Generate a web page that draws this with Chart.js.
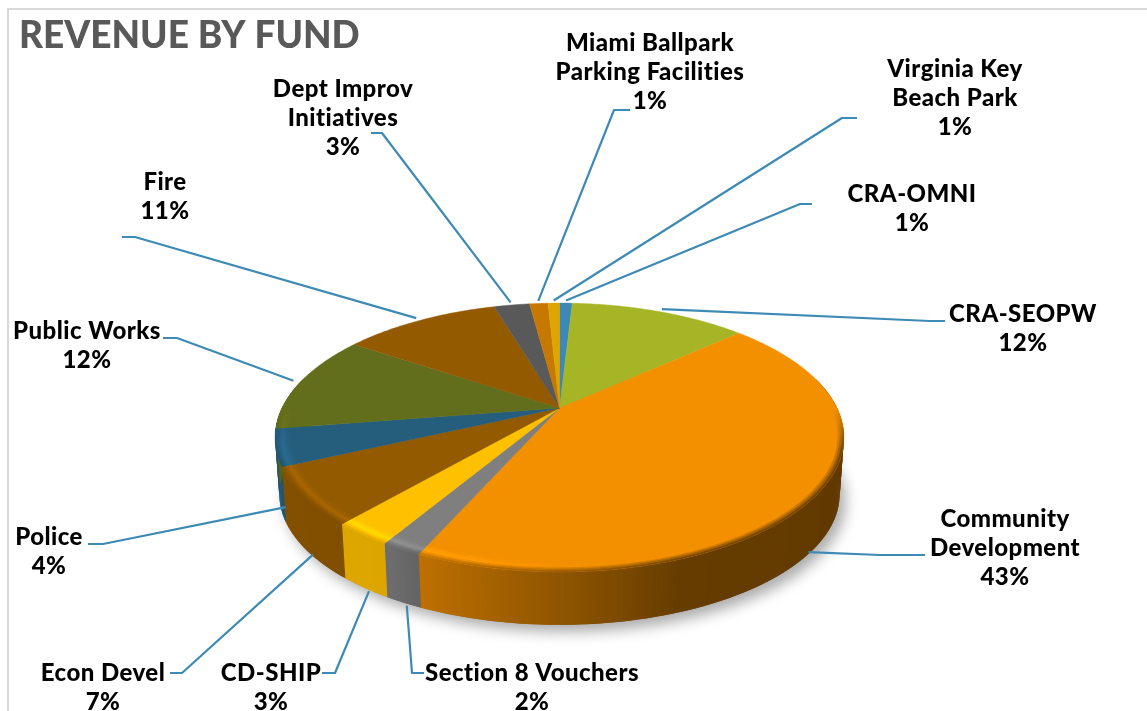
<!DOCTYPE html>
<html><head><meta charset="utf-8">
<style>html,body{margin:0;padding:0;background:#fff}#w{width:1147px;height:711px;position:relative}canvas{display:block;filter:blur(.45px)}</style>
<script src="https://cdn.jsdelivr.net/npm/chart.js@4"></script></head>
<body><div id="w"><canvas id="c" width="1147" height="711"></canvas></div>
<script>
const chartTitle = 'REVENUE BY FUND';
const categories = ['CRA-OMNI','CRA-SEOPW','Community Development','Section 8 Vouchers','CD-SHIP','Econ Devel','Police','Public Works','Fire','Dept Improv Initiatives','Miami Ballpark Parking Facilities','Virginia Key Beach Park'];
const values = [0.9,12.4,43.4,1.9,2.8,6.8,4.4,11.9,11.0,2.5,1.3,0.8];
const percentLabels = ['1%','12%','43%','2%','3%','7%','4%','12%','11%','3%','1%','1%'];
const colors = ['#3D88B5','#A5B526','#F39000','#7F7F7F','#FFC000','#935A00','#255E7D','#636E1C','#935A00','#595959','#C77800','#DDA500'];
const labelLines = [['CRA-OMNI'],['CRA-SEOPW'],['Community','Development'],['Section 8 Vouchers'],['CD-SHIP'],['Econ Devel'],['Police'],['Public Works'],['Fire'],['Dept Improv','Initiatives'],['Miami Ballpark','Parking Facilities'],['Virginia Key','Beach Park']];
// label anchor: centre x, first line y
const labelX = [912,1023,1005,532,271,103,49,87,165,343,650,955];
const labelY = [194,314,519,673,673,673,537,331,182,89,43,69];
// leader line elbows on the label side: [outer x, y, elbow x]
const leaderEnds = [[812,204,800],[945,321,930],[925,555,880],[424,673,412],[322,673,335],[170,673,182],[88,544,103],[163,338,177],[122,237,135],[371,133,382],[630,110,614],[857,118,842]];

const K = 0.219, YR = 0.461, DEPTH = 58, TAPER = 0.985;
function hex(c){return [1,3,5].map(i=>parseInt(c.substr(i,2),16));}
function css(a){return 'rgb('+a.map(v=>Math.round(Math.max(0,Math.min(255,v)))).join(',')+')';}
function mix(a,b,f){return a.map((v,i)=>v+(b[i]-v)*f);}
function mult(u){const p=[[-1,.9],[-.5,.86],[-.4,.78],[0,.59],[.35,.42],[1,.40]];
  for(let i=1;i<p.length;i++){if(u<=p[i][0]){const f=(u-p[i-1][0])/(p[i][0]-p[i-1][0]);return p[i-1][1]+(p[i][1]-p[i-1][1])*f;}}return .4;}

const pie3d = {
  id:'pie3d',
  beforeDraw(chart){const x=chart.ctx;x.save();x.strokeStyle='#D9D9D9';x.lineWidth=2;x.beginPath();x.moveTo(8,711);x.lineTo(8,9);x.lineTo(1147,9);x.stroke();x.restore();},
  beforeDatasetsDraw(chart){
    const ctx=chart.ctx, arcs=chart.getDatasetMeta(0).data, a0=arcs[0];
    const cx=a0.x, cy=a0.y, R=a0.outerRadius;
    const P=(th,r)=>{const u=r*Math.sin(th),t=-r*Math.cos(th),s=1/(1-K*t);return [cx+R*u*s,cy+R*YR*t*s];};
    const low=(p,th)=>[cx+(p[0]-cx)*TAPER,p[1]+DEPTH-5*Math.max(0,-Math.cos(th))];
    const quad=(a,b,c,d,col)=>{ctx.fillStyle=col;ctx.beginPath();ctx.moveTo(a[0],a[1]);ctx.lineTo(b[0],b[1]);ctx.lineTo(c[0],c[1]);ctx.lineTo(d[0],d[1]);ctx.closePath();ctx.fill();};
    const STEP=Math.PI/180*0.75;
    ctx.save();
    ctx.save();ctx.filter='blur(7px)';ctx.fillStyle='rgba(0,0,0,.33)';ctx.beginPath();
    for(let th=0;th<Math.PI*2;th+=STEP){const p=low(P(th,1),th);ctx.lineTo(p[0]+6,p[1]+7);}
    ctx.closePath();ctx.fill();ctx.restore();
    const seg=(arc,fn)=>{const a=arc.startAngle+Math.PI/2,b=arc.endAngle+Math.PI/2,n=Math.max(1,Math.ceil((b-a)/STEP));
      for(let i=0;i<n;i++)fn(a+(b-a)*i/n,a+(b-a)*(i+1)/n,i===n-1);};
    // sides: each step overlaps the next one, so no seams show
    arcs.forEach((arc,i)=>{const base=hex(colors[i]);
      seg(arc,(t0,t1)=>{const tm=(t0+t1)/2;if(-Math.cos(tm)<-0.24)return;
        const u=Math.sin(tm),col=base.map(v=>v*mult(u));
        const a=P(t0,1),b=P(t1+STEP,1);
        quad(a,b,low(b,t1+STEP),low(a,t0),css(col));});});
    // top faces
    arcs.forEach((arc,i)=>{const a=arc.startAngle+Math.PI/2,b=arc.endAngle+Math.PI/2;
      ctx.fillStyle=colors[i];ctx.strokeStyle=colors[i];ctx.lineWidth=.4;ctx.beginPath();ctx.moveTo(cx,cy);
      for(let th=a;th<b;th+=STEP){const p=P(th,1);ctx.lineTo(p[0],p[1]);}
      const e=P(b,1);ctx.lineTo(e[0],e[1]);ctx.closePath();ctx.fill();ctx.stroke();});
    // bevel rim, fading out towards the back of the pie
    const RINGS=7,R0=.95;
    arcs.forEach((arc,i)=>{const base=hex(colors[i]);
      seg(arc,(t0,t1,last)=>{const tm=(t0+t1)/2,cs=-Math.cos(tm);if(cs<0)return;
        const u=Math.sin(tm),w=Math.min(1,cs/.3),side=base.map(v=>v*mult(u));
        const light=base.map(v=>v*(1+Math.max(0,Math.min(.14,-u*.3))));
        for(let k=0;k<RINGS;k++){const f=(k+.5)/RINGS;
          let c=f<.5?mix(base,light,f*2):mix(light,side,(f-.5)*2);
          c=mix(base,c,w);
          const r0=R0+(1-R0)*k/RINGS,r1=R0+(1-R0)*(k+1.6)/RINGS;
          const te=last?t1:t1+STEP;
          quad(P(t0,r0),P(te,r0),P(te,Math.min(1,r1)),P(t0,Math.min(1,r1)),css(c));}
      });});
    // leader lines: the pie end follows each slice's mid angle
    ctx.strokeStyle='#3D8AB5';ctx.lineWidth=2.2;ctx.lineJoin='round';
    arcs.forEach((arc,i)=>{const th=(arc.startAngle+arc.endAngle)/2+Math.PI/2;
      const front=-Math.cos(th)>0.1;let p=P(th,front?1:1.03);if(front){p=low(p,th);p=[p[0]-(p[0]-cx)*.02,p[1]+3];}
      const e=leaderEnds[i];ctx.beginPath();ctx.moveTo(e[0],e[1]);ctx.lineTo(e[2],e[1]);ctx.lineTo(p[0],p[1]);ctx.stroke();});
    // data labels
    ctx.fillStyle='#000';ctx.textAlign='center';ctx.textBaseline='middle';ctx.font='900 24px Lato';ctx.letterSpacing='0.45px';
    categories.forEach((c,i)=>{const lines=labelLines[i].concat(percentLabels[i]);
      lines.forEach((t,j)=>ctx.fillText(t,labelX[i],labelY[i]+j*29.2));});
    ctx.restore();
    return false;
  }
};
new Chart(document.getElementById('c'),{
  type:'pie',
  data:{labels:categories,datasets:[{data:values,backgroundColor:colors,borderWidth:0}]},
  options:{responsive:false,animation:false,rotation:0,
    layout:{padding:{left:19,right:47,top:0,bottom:25.5}},
    plugins:{legend:{display:false},tooltip:{enabled:false},
      title:{display:true,text:chartTitle,align:'start',color:'#595959',font:{family:'Lato',size:37,weight:'900',lineHeight:1.2},padding:{top:14,bottom:72.1}}}},
  plugins:[pie3d]
});
</script></body></html>
